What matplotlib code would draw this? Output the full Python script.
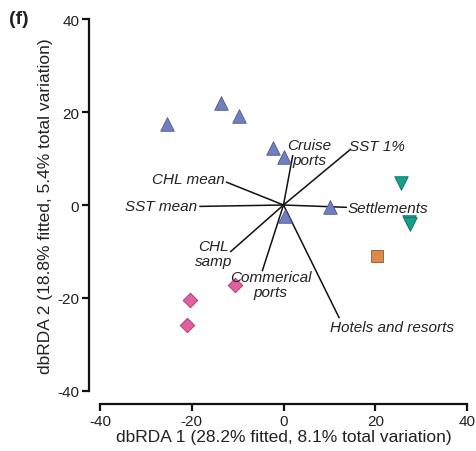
import matplotlib
matplotlib.use("Agg")
import matplotlib.pyplot as plt

plt.rcParams['font.family'] = ['Liberation Sans', 'DejaVu Sans']
plt.rcParams['axes.unicode_minus'] = False

# Sample scores (dbRDA1, dbRDA2) per group
blue_x = [-25.3, -13.7, -9.8, -2.2, 0.2, 0.3, 10.2]
blue_y = [17.4, 21.9, 19.1, 12.3, 10.4, -2.3, -0.5]
green_x = [25.6, 27.3, 27.5]
green_y = [4.7, -3.6, -4.1]
orange_x = [20.4]
orange_y = [-11.0]
pink_x = [-10.5, -20.3, -21.1]
pink_y = [-17.2, -20.4, -25.8]

# Vectors (predictor overlay)
vec_names = ["Cruise\nports", "SST 1%", "CHL mean", "SST mean", "Settlements",
             "CHL\nsamp", "Commerical\nports", "Hotels and resorts"]
vec_x = [2.0, 14.4, -12.4, -18.2, 13.7, -11.5, -4.6, 12.1]
vec_y = [10.6, 11.8, 4.9, -0.3, -0.5, -10.0, -14.1, -24.2]

xticks = [-40, -20, 0, 20, 40]
yticks = [-40, -20, 0, 20, 40]

W, H = 476, 452
fig = plt.figure(figsize=(W / 100, H / 100), dpi=100)
ax = fig.add_axes([100 / W, 1 - 392 / H, (467 - 100) / W, (392 - 20) / H])
ax.set_xlim(-40, 40)
ax.set_ylim(-40, 40)

for s in ['top', 'right']:
    ax.spines[s].set_visible(False)
ax.spines['left'].set_position(('outward', 8))
ax.spines['bottom'].set_position(('outward', 9.5))
for s in ['left', 'bottom']:
    ax.spines[s].set_linewidth(1.6)
    ax.spines[s].set_color('#111111')
ax.set_xticks(xticks)
ax.set_yticks(yticks)
ax.tick_params(direction='out', length=5, width=1.6, labelsize=11,
               colors='#111111', labelcolor='#222222', pad=2)

# vectors
for vx, vy in zip(vec_x, vec_y):
    ax.plot([0, vx], [0, vy], color='#111111', lw=1.1, zorder=2)

# points
ax.scatter(blue_x, blue_y, marker='^', s=95, color='#6f7fc0', edgecolor='#4a5590',
           linewidth=0.6, zorder=3)
ax.scatter(green_x, green_y, marker='v', s=95, color='#16a08c', edgecolor='#0d6d5f',
           linewidth=0.6, zorder=3)
ax.scatter(orange_x, orange_y, marker='s', s=70, color='#dc8a48', edgecolor='#8a5a30',
           linewidth=0.6, zorder=3)
ax.scatter(pink_x, pink_y, marker='D', s=55, color='#e25fa0', edgecolor='#9a3a6a',
           linewidth=0.6, zorder=3)

# vector labels
lab_style = dict(fontsize=11, style='italic', color='#222222', zorder=4)
offsets = {
    "Cruise\nports": (5.7, 11.2, 'center', 'center'),
    "SST 1%": (14.3, 12.7, 'left', 'center'),
    "CHL mean": (-12.8, 5.6, 'right', 'center'),
    "SST mean": (-18.8, -0.3, 'right', 'center'),
    "Settlements": (13.9, -0.6, 'left', 'center'),
    "CHL\nsamp": (-15.3, -10.4, 'center', 'center'),
    "Commerical\nports": (-2.8, -17.0, 'center', 'center'),
    "Hotels and resorts": (10.2, -26.3, 'left', 'center'),
}
for name in vec_names:
    tx, ty, ha, va = offsets[name]
    ax.text(tx, ty, name, ha=ha, va=va, linespacing=1.1, **lab_style)

ax.set_xlabel("dbRDA 1 (28.2% fitted, 8.1% total variation)", fontsize=12.5,
              color='#222222', labelpad=1)
ax.set_ylabel("dbRDA 2 (18.8% fitted, 5.4% total variation)", fontsize=12.5,
              color='#222222', labelpad=3)

fig.text(9 / W, 1 - 20 / H, "(f)", fontsize=14, fontweight='bold', ha='left',
         va='center', color='#222222')

fig.savefig("out.png", dpi=100)
